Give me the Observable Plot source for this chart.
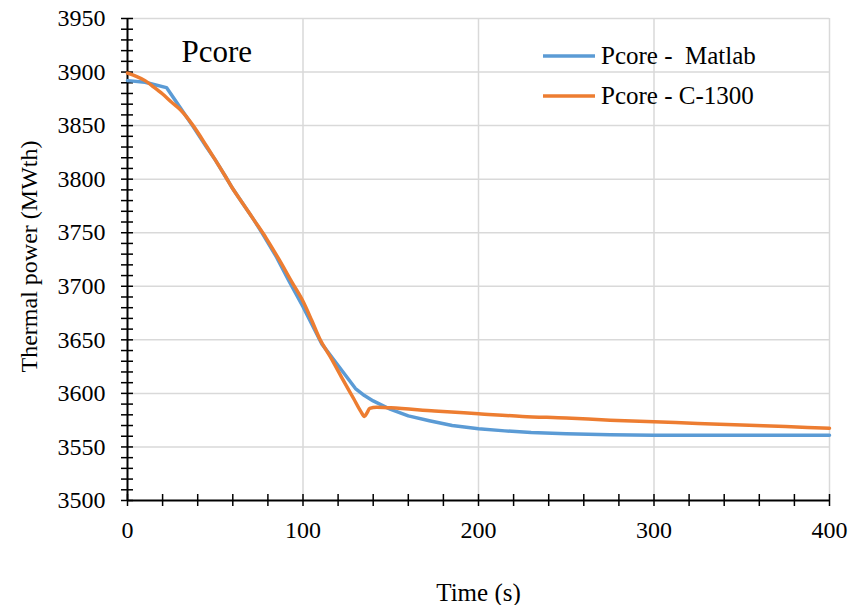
<!DOCTYPE html>
<html>
<head>
<meta charset="utf-8">
<script src="https://cdn.jsdelivr.net/npm/d3@7"></script>
<script src="https://cdn.jsdelivr.net/npm/@observablehq/plot@0.6"></script>
<style>
  html, body { margin: 0; padding: 0; background: #fff; }
  #wrap { position: relative; width: 852px; height: 605px; font-family: "Liberation Serif", "Times New Roman", serif; }
  #legend { position: absolute; left: 541px; top: 36px; font-size: 25px; color: #000; }
  #legend .item { display: flex; align-items: center; height: 40px; white-space: pre; }
  #legend svg { margin-right: 4px; }
</style>
</head>
<body>
<div id="wrap"></div>
<script>
// Series: Pcore - Matlab
const time_matlab = [0, 10, 22.2, 30, 37, 45, 50, 56, 60, 65, 72, 77, 85, 92, 100, 108, 110.8, 120, 129.9, 135, 140, 150, 160, 172, 185, 200, 215, 230, 250, 275, 300, 350, 400];
const power_matlab = [3892, 3890.5, 3885.5, 3867, 3850, 3830, 3818, 3802, 3791, 3779, 3762, 3749, 3727, 3705, 3681, 3655, 3646, 3626, 3604.5, 3598, 3593, 3585, 3579, 3574.5, 3570, 3567, 3565, 3563.5, 3562.3, 3561.5, 3561, 3561, 3561];

// Series: Pcore - C-1300
const time_c1300 = [0, 5, 10, 15, 20, 25, 30, 37.4, 45, 50, 56, 60, 65, 72, 79, 86, 94, 100, 105, 109.5, 115.6, 122, 128.9, 133, 135, 136.5, 138, 142, 150, 175, 200, 225, 250, 275, 300, 325, 350, 375, 400];
const power_c1300 = [3899, 3896, 3892, 3886, 3879.5, 3872, 3865, 3850, 3831, 3818, 3802, 3791, 3779, 3762, 3745, 3726, 3703, 3686, 3668, 3651, 3634, 3615, 3595, 3583, 3578.5, 3582, 3586, 3587, 3586.5, 3583.5, 3581, 3578.5, 3577, 3575, 3573.5, 3572, 3570.5, 3569, 3567.5];

const seriesNames = ["Pcore -  Matlab", "Pcore - C-1300"];
const seriesColors = ["#5B9BD5", "#ED7D31"];

const xMajorTicks = [0, 100, 200, 300, 400];
const xMinorTicks = d3.range(0, 401, 20);
const yMajorTicks = [3500, 3550, 3600, 3650, 3700, 3750, 3800, 3850, 3900, 3950];
const yMinorTicks = d3.range(3500, 3951, 10);
const xGrid = [100, 200, 300, 400];
const yGrid = [3550, 3600, 3650, 3700, 3750, 3800, 3850, 3900, 3950];

const plotTitle = "Pcore";
const xLabel = "Time (s)";
const yLabel = "Thermal power (MWth)";

const matlab = time_matlab.map((t, i) => ({t, p: power_matlab[i]}));
const c1300 = time_c1300.map((t, i) => ({t, p: power_c1300[i]}));

const chart = Plot.plot({
  width: 852,
  height: 605,
  marginLeft: 127,
  marginRight: 23,
  marginTop: 18,
  marginBottom: 105,
  style: {fontFamily: "'Liberation Serif', 'Times New Roman', serif", fontSize: "24px", background: "#fff", color: "#000"},
  x: {domain: [0, 400]},
  y: {domain: [3500, 3950]},
  marks: [
    Plot.gridX(xGrid, {stroke: "#d9d9d9", strokeOpacity: 1, strokeWidth: 1.5}),
    Plot.gridY(yGrid, {stroke: "#d9d9d9", strokeOpacity: 1, strokeWidth: 1.5}),
    // minor/major tick marks crossing the axes
    Plot.axisY(yMinorTicks, {tickSize: 12, dx: 6, tickFormat: () => "", label: null, stroke: "#000", strokeWidth: 1.5}),
    Plot.axisX(xMinorTicks, {tickSize: 12, dy: -6, tickFormat: () => "", label: null, stroke: "#000", strokeWidth: 1.5}),
    // tick labels
    Plot.axisY(yMajorTicks, {tickSize: 0, tickPadding: 22, tickFormat: d3.format("d"), label: null, fontSize: 24, fill: "#000"}),
    Plot.axisX(xMajorTicks, {tickSize: 0, tickPadding: 20, tickFormat: d3.format("d"), label: null, fontSize: 24, fill: "#000"}),
    // axis lines
    Plot.ruleX([0], {stroke: "#000", strokeWidth: 2}),
    Plot.ruleY([3500], {stroke: "#000", strokeWidth: 2}),
    // series
    Plot.line(matlab, {x: "t", y: "p", stroke: seriesColors[0], strokeWidth: 3.5}),
    Plot.line(c1300, {x: "t", y: "p", stroke: seriesColors[1], strokeWidth: 3.5, curve: "monotone-x"}),
    // texts
    Plot.text([plotTitle], {frameAnchor: "top-left", textAnchor: "start", lineAnchor: "middle", dx: 54, dy: 34, fontSize: 31, fill: "#000"}),
    Plot.text([xLabel], {frameAnchor: "bottom", lineAnchor: "middle", dy: 92, fontSize: 25, fill: "#000"}),
    Plot.text([yLabel], {frameAnchor: "left", rotate: -90, textAnchor: "middle", lineAnchor: "middle", dx: -98, dy: -3, fontSize: 24, fill: "#000"})
  ]
});

const wrap = document.getElementById("wrap");
wrap.appendChild(chart);

const legend = document.createElement("div");
legend.id = "legend";
seriesNames.forEach((name, i) => {
  const item = document.createElement("div");
  item.className = "item";
  item.innerHTML = `<svg width="56" height="10"><line x1="2" y1="5" x2="54" y2="5" stroke="${seriesColors[i]}" stroke-width="3.5"/></svg><span>${name}</span>`;
  legend.appendChild(item);
});
wrap.appendChild(legend);
</script>
</body>
</html>
